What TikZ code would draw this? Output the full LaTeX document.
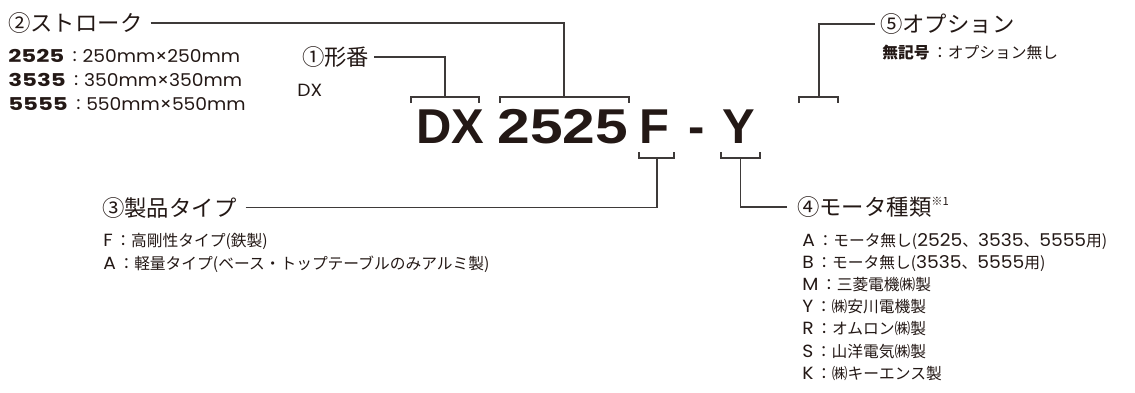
\documentclass[tikz,border=0pt]{standalone}
\usepackage{fontspec}
\setmainfont{Noto Sans CJK JP}
\newfontfamily\latinfont[Scale=1.12,FakeStretch=1.06]{Poppins}
\newfontfamily\latinbold[Scale=1.12,FakeStretch=1.3]{Poppins}
\newfontfamily\codefont{Liberation Sans}
\newfontfamily\codedigits[FakeStretch=1.2]{Liberation Sans}
\usepackage{xcolor}
\definecolor{MarkInk}{HTML}{231815}
\definecolor{MarkLine}{HTML}{3E3A39}
\tikzset{
    % Text styles
    codepart/.style={
        anchor=base,
        inner sep=0pt,
        text=MarkInk,
        font=\codefont\bfseries\fontsize{34.8}{36}\selectfont
    },
    titletext/.style={
        anchor=west,
        inner sep=0pt,
        text=MarkInk,
        text height=14pt,
        text depth=1.9pt,
        font=\fontsize{15.9}{17}\selectfont
    },
    legendtext/.style={
        anchor=west,
        inner sep=0pt,
        text=MarkInk,
        text height=9.9pt,
        text depth=1.3pt,
        font=\fontsize{11.2}{12}\selectfont
    },
    % Line styles
    leader/.style={
        draw=MarkLine,
        line width=0.9pt
    },
    bracket/.style={
        draw=MarkLine,
        line width=0.9pt
    }
}

\begin{document}
\begin{tikzpicture}
    \useasboundingbox (0,0) rectangle (28.375,-9.8);

    % Model code
    \node[codepart] (cdx) at (11.2625,-3.575) {DX};
    \node[codepart,font=\codedigits\bfseries\fontsize{34.8}{36}\selectfont] (cnum) at (14.075,-3.575) {2525};
    \node[codepart] (ctype) at (16.35,-3.575) {F};
    \node[codepart] (cdash) at (17.4125,-3.575) {-};
    \node[codepart] (cmotor) at (18.4625,-3.575) {Y};

    % Brackets
    \coordinate (brdx) at (11.125,-2.425);
    \coordinate (brnum) at (14.1,-2.425);
    \coordinate (brtype) at (16.425,-3.95);
    \coordinate (brmotor) at (18.5125,-3.95);
    \coordinate (bropt) at (20.475,-2.425);
    \draw[bracket] (10.275,-2.575) |- (11.975,-2.425) -- (11.975,-2.575);
    \draw[bracket] (12.5,-2.575) |- (15.725,-2.425) -- (15.725,-2.575);
    \draw[bracket] (15.975,-3.8) |- (16.85,-3.95) -- (16.85,-3.8);
    \draw[bracket] (18.025,-3.8) |- (19.0,-3.95) -- (19.0,-3.8);
    \draw[bracket] (19.975,-2.575) |- (20.95,-2.425) -- (20.95,-2.575);

    % Titles
    \node[titletext] (tstroke) at (0.2,-0.575) {②ストローク};
    \node[titletext] (tmodel) at (7.55,-1.425) {①形番};
    \node[titletext] (toption) at (22.0,-0.6) {⑤オプション};
    \node[titletext] (ttype) at (2.55,-5.19) {③製品タイプ};
    \node[titletext] (tmotor) at (19.925,-5.175) {④モータ種類\raisebox{0.45em}{\fontsize{8}{8}\selectfont ※1}};

    % Leaders
    \draw[leader] ([xshift=0.2cm]tstroke.east) -| (brnum);
    \draw[leader] ([xshift=0.12cm]tmodel.east) -| (brdx);
    \draw[leader] ([xshift=-0.125cm]toption.west) -| (bropt);
    \draw[leader] ([xshift=0.225cm]ttype.east) -| (brtype);
    \draw[leader] ([xshift=-0.25cm]tmotor.west) -| (brmotor);

    % Stroke list
    \node[legendtext] (s2525) at (0.2,-1.42) {{\latinbold\bfseries 2525}\,：{\latinfont 250mm×250mm}};
    \node[legendtext] (s3535) at (0.2,-2.02) {{\latinbold\bfseries 3535}\,：{\latinfont 350mm×350mm}};
    \node[legendtext] (s5555) at (0.2,-2.6) {{\latinbold\bfseries 5555}\,：{\latinfont 550mm×550mm}};

    % Model list
    \node[legendtext] (mdx) at (7.425,-2.25) {{\latinfont DX}};

    % Option list
    \node[legendtext] (onone) at (22.05,-1.3) {\textbf{無記号}\,：オプション無し};

    % Type list
    \node[legendtext] (tyf) at (2.575,-6.0) {{\latinfont F}\,：高剛性タイプ(鉄製)};
    \node[legendtext] (tya) at (2.575,-6.575) {{\latinfont A}\,：軽量タイプ(ベース・トップテーブルのみアルミ製)};

    % Motor list
    \node[legendtext] (mta) at (20.05,-6.0) {{\latinfont A}\,：モータ無し({\latinfont 2525}、{\latinfont 3535}、{\latinfont 5555}用)};
    \node[legendtext] (mtb) at (20.05,-6.55) {{\latinfont B}\,：モータ無し({\latinfont 3535}、{\latinfont 5555}用)};
    \node[legendtext] (mtm) at (20.05,-7.1) {{\latinfont M}\,：三菱電機㈱製};
    \node[legendtext] (mty) at (20.05,-7.65) {{\latinfont Y}\,：㈱安川電機製};
    \node[legendtext] (mtr) at (20.05,-8.2) {{\latinfont R}\,：オムロン㈱製};
    \node[legendtext] (mts) at (20.05,-8.775) {{\latinfont S}\,：山洋電気㈱製};
    \node[legendtext] (mtk) at (20.05,-9.325) {{\latinfont K}\,：㈱キーエンス製};
\end{tikzpicture}
\end{document}
